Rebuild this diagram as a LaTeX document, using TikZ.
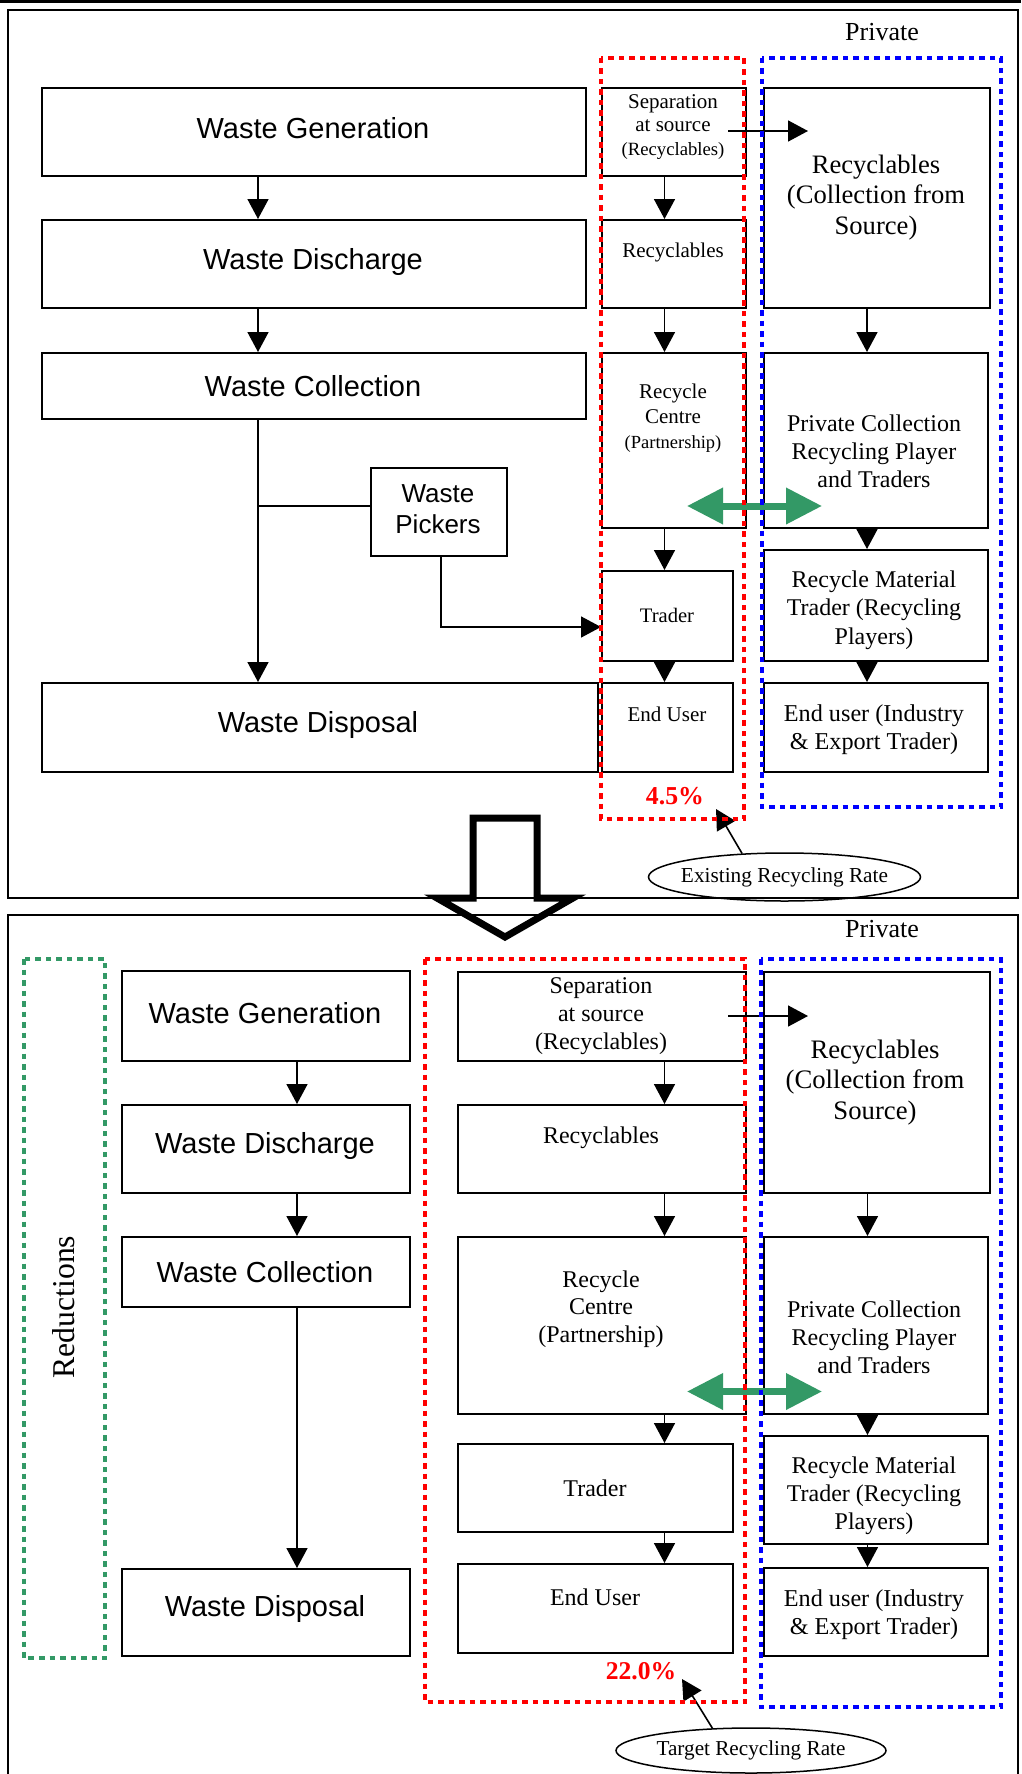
\documentclass[tikz,border=0pt]{standalone}
\usepackage{fontspec}
\setmainfont{Liberation Serif}
\newfontfamily\arialf{Liberation Sans}
\usetikzlibrary{arrows.meta,shapes.geometric}
\definecolor{sgreen}{RGB}{51,153,102}
\newcommand\myfs[2]{\fontsize{#1}{#2}\selectfont}
\newcommand\mkbox[5]{\node[box, minimum width={#4pt-#2pt}, minimum height={#5pt-#3pt}] (#1) at (#2,#3) {};}
\begin{document}
\begin{tikzpicture}[x=1pt,y=-1pt,
  box/.style={draw, line width=1.6pt, inner sep=0pt, anchor=north west},
  tx/.style={inner sep=0pt, align=center},
  arr/.style={line width=1.6pt, -{Triangle[length=20pt,width=21pt]}},
  ln/.style={line width=1.6pt},
  garr/.style={draw=sgreen, line width=7pt, {Triangle[length=36pt,width=35pt]}-{Triangle[length=36pt,width=35pt]}},
  reddot/.style={draw=red, line width=4.5pt, dash pattern=on 5.5pt off 5pt},
  bluedot/.style={draw=blue, line width=4.5pt, dash pattern=on 5.5pt off 5pt},
  greendot/.style={draw=sgreen, line width=4.5pt, dash pattern=on 5.5pt off 5pt},
  ell/.style={ellipse, draw, line width=1.5pt, inner sep=0pt},
  panel/.style={line width=1.5pt}
]
\clip (0,0) rectangle (1021,1774);
\fill[white] (0,0) rectangle (1021,1774);

% ---------- frames ----------
\draw[line width=3pt] (0,1.5) -- (1021,1.5);
\draw[panel] (8,10) rectangle (1018,898);
\draw[panel] (8,1790) -- (8,915) -- (1018,915) -- (1018,1790);

% ================= TOP PANEL =================
\mkbox{wg1}{41}{87}{585}{175}
\mkbox{wd1}{41}{219}{585}{307}
\mkbox{wc1}{41}{352}{585}{418}
\mkbox{wp1}{370}{467}{506}{555}
\mkbox{wx1}{41}{682}{597}{771}
\mkbox{sep1}{601}{87}{745}{175}
\mkbox{rec1}{601}{219}{745}{307}
\mkbox{rc1}{601}{352}{745}{527}
\mkbox{tr1}{601}{570}{732}{660}
\mkbox{eu1}{601}{682}{732}{771}
\mkbox{rcs1}{763}{87}{989}{307}
\mkbox{pc1}{763}{352}{987}{527}
\mkbox{rmt1}{763}{549}{987}{660}
\mkbox{ei1}{763}{682}{987}{771}

\node[tx, font=\arialf\myfs{29}{33}] (wg1t) at (313,128) {Waste Generation};
\node[tx, font=\arialf\myfs{29}{33}] (wd1t) at (313,262) {Waste Discharge};
\node[tx, font=\arialf\myfs{29}{33}] (wc1t) at (313,386) {Waste Collection};
\node[tx, font=\arialf\myfs{29}{33}] (wx1t) at (318,725) {Waste Disposal};
\node[tx, font=\arialf\myfs{26}{31}] (wp1t) at (438,509) {Waste\\Pickers};
\node[tx, font=\myfs{21}{23.3}] (sep1t) at (673,127) {Separation\\at source\\\myfs{18.7}{23.3}(Recyclables)};
\node[tx, font=\myfs{21}{24}] (rec1t) at (673,252) {Recyclables};
\node[tx, font=\myfs{21}{24.7}] (rc1t) at (673,418) {Recycle\\Centre\\\myfs{18.5}{24.7}(Partnership)};
\node[tx, font=\myfs{20.6}{24}] (tr1t) at (667,615) {Trader};
\node[tx, font=\myfs{21}{24}] (eu1t) at (667,714) {End User};
\node[tx, font=\myfs{26.6}{30.8}] (rcs1t) at (876,197.5) {Recyclables\\(Collection from\\Source)};
\node[tx, font=\myfs{24}{28}] (pc1t) at (874,451.3) {Private Collection\\Recycling Player\\and Traders};
\node[tx, font=\myfs{24}{28.3}] (rmt1t) at (874,610) {Recycle Material\\Trader (Recycling\\Players)};
\node[tx, font=\myfs{24.2}{27.6}] (ei1t) at (874,729.5) {End user (Industry\\\& Export Trader)};
\node[tx, font=\myfs{26}{30}] (priv1) at (882,32) {Private};
\node[tx, text=red, font=\bfseries\myfs{25.8}{30}] (pct1) at (675,796) {4.5\%};
\node[ell, minimum width=272pt, minimum height=48pt] (ell1) at (784.5,877) {};
\node[tx, font=\myfs{21.3}{25}] (ell1t) at (ell1.center) {Existing Recycling Rate};

% connectors top
\coordinate (cx1) at (258,0);
\coordinate (cx2) at (664.5,0);
\coordinate (cx3) at (867,0);
\draw[arr] (wg1.south -| cx1) -- (wd1.north -| cx1);
\draw[arr] (wd1.south -| cx1) -- (wc1.north -| cx1);
\draw[arr] (wc1.south -| cx1) -- (wx1.north -| cx1);
\coordinate (wpj) at (258,506);
\draw[ln] (wpj) -- (wpj -| wp1.west);
\coordinate (wpx) at (441,627);
\draw[arr] (wp1.south -| wpx) |- (tr1.west |- wpx);
\draw[arr] (sep1.south -| cx2) -- (rec1.north -| cx2);
\draw[arr] (rec1.south -| cx2) -- (rc1.north -| cx2);
\draw[arr] (rc1.south -| cx2) -- (tr1.north -| cx2);
\draw[arr] (tr1.south -| cx2) -- (eu1.north -| cx2);
\draw[arr] (rcs1.south -| cx3) -- (pc1.north -| cx3);
\draw[arr] (pc1.south -| cx3) -- (rmt1.north -| cx3);
\draw[arr] (rmt1.south -| cx3) -- (ei1.north -| cx3);
\coordinate (sa1) at (728,131);
\coordinate (sb1) at (808,131);
\draw[arr] (sa1) -- (sb1);
\coordinate (ga1) at (687,506);
\coordinate (gb1) at (822,506);
\draw[garr] (ga1) -- (gb1);
\coordinate (et1) at (716,809);
\draw[arr] (ell1.151) -- (et1);

\draw[reddot] (601,58) rectangle (744,819);
\draw[bluedot] (762,58) rectangle (1001,807);

% ================= BOTTOM PANEL =================
\mkbox{wg2}{121}{970}{409}{1060}
\mkbox{wd2}{121}{1104}{409}{1192}
\mkbox{wc2}{121}{1236}{409}{1306}
\mkbox{wx2}{121}{1568}{409}{1655}
\mkbox{sep2}{457}{971}{745}{1060}
\mkbox{rec2}{457}{1104}{745}{1192}
\mkbox{rc2}{457}{1236}{745}{1413}
\mkbox{tr2}{457}{1443}{732}{1531}
\mkbox{eu2}{457}{1563}{732}{1652}
\mkbox{rcs2}{763}{971}{989}{1192}
\mkbox{pc2}{763}{1236}{987}{1413}
\mkbox{rmt2}{763}{1435}{987}{1543}
\mkbox{ei2}{763}{1567}{987}{1655}

\node[tx, font=\arialf\myfs{29}{33}] (wg2t) at (265,1013) {Waste Generation};
\node[tx, font=\arialf\myfs{29}{33}] (wd2t) at (265,1146) {Waste Discharge};
\node[tx, font=\arialf\myfs{29}{33}] (wc2t) at (265,1272) {Waste Collection};
\node[tx, font=\arialf\myfs{29}{33}] (wx2t) at (265,1609) {Waste Disposal};
\node[tx, rotate=90, font=\myfs{31.7}{36}] (redu) at (64,1307) {Reductions};
\node[tx, font=\myfs{24}{27.8}] (sep2t) at (601,1016) {Separation\\at source\\(Recyclables)};
\node[tx, font=\myfs{24}{28}] (rec2t) at (601,1137.5) {Recyclables};
\node[tx, font=\myfs{24}{27.5}] (rc2t) at (601,1309) {Recycle\\Centre\\(Partnership)};
\node[tx, font=\myfs{24}{28}] (tr2t) at (595,1488.5) {Trader};
\node[tx, font=\myfs{24}{28}] (eu2t) at (595,1597) {End User};
\node[tx, font=\myfs{26.7}{30.8}] (rcs2t) at (875,1082.5) {Recyclables\\(Collection from\\Source)};
\node[tx, font=\myfs{24}{28}] (pc2t) at (874,1337) {Private Collection\\Recycling Player\\and Traders};
\node[tx, font=\myfs{24}{28}] (rmt2t) at (874,1495.5) {Recycle Material\\Trader (Recycling\\Players)};
\node[tx, font=\myfs{24.2}{28}] (ei2t) at (874,1615) {End user (Industry\\\& Export Trader)};
\node[tx, font=\myfs{26}{30}] (priv2) at (882,929) {Private};
\node[tx, text=red, font=\bfseries\myfs{25.6}{30}] (pct2) at (641,1671) {22.0\%};
\node[ell, minimum width=270pt, minimum height=45pt] (ell2) at (751,1750.5) {};
\node[tx, font=\myfs{21.2}{25}] (ell2t) at (ell2.center) {Target Recycling Rate};

\coordinate (cx4) at (297,0);
\coordinate (cx5) at (664.5,0);
\coordinate (cx6) at (867.5,0);
\draw[arr] (wg2.south -| cx4) -- (wd2.north -| cx4);
\draw[arr] (wd2.south -| cx4) -- (wc2.north -| cx4);
\draw[arr] (wc2.south -| cx4) -- (wx2.north -| cx4);
\draw[arr] (sep2.south -| cx5) -- (rec2.north -| cx5);
\draw[arr] (rec2.south -| cx5) -- (rc2.north -| cx5);
\draw[arr] (rc2.south -| cx5) -- (tr2.north -| cx5);
\draw[arr] (tr2.south -| cx5) -- (eu2.north -| cx5);
\draw[arr] (rcs2.south -| cx6) -- (pc2.north -| cx6);
\draw[arr] (pc2.south -| cx6) -- (rmt2.north -| cx6);
\draw[arr] (rmt2.south -| cx6) -- (ei2.north -| cx6);
\coordinate (sa2) at (728,1016);
\coordinate (sb2) at (808,1016);
\draw[arr] (sa2) -- (sb2);
\coordinate (ga2) at (687,1391.5);
\coordinate (gb2) at (822,1391.5);
\draw[garr] (ga2) -- (gb2);
\coordinate (et2) at (682,1679);
\draw[arr] (ell2.150) -- (et2);

\draw[greendot] (24,959) rectangle (105,1658);
\draw[reddot] (425,959) rectangle (745,1702);
\draw[bluedot] (761,959) rectangle (1001,1707);

% big hollow arrow between panels
\draw[line width=7pt, miter limit=10] (473,818) -- (537,818) -- (537,898) -- (573,898) -- (505,937) -- (437,898) -- (473,898) -- cycle;
\end{tikzpicture}
\end{document}
